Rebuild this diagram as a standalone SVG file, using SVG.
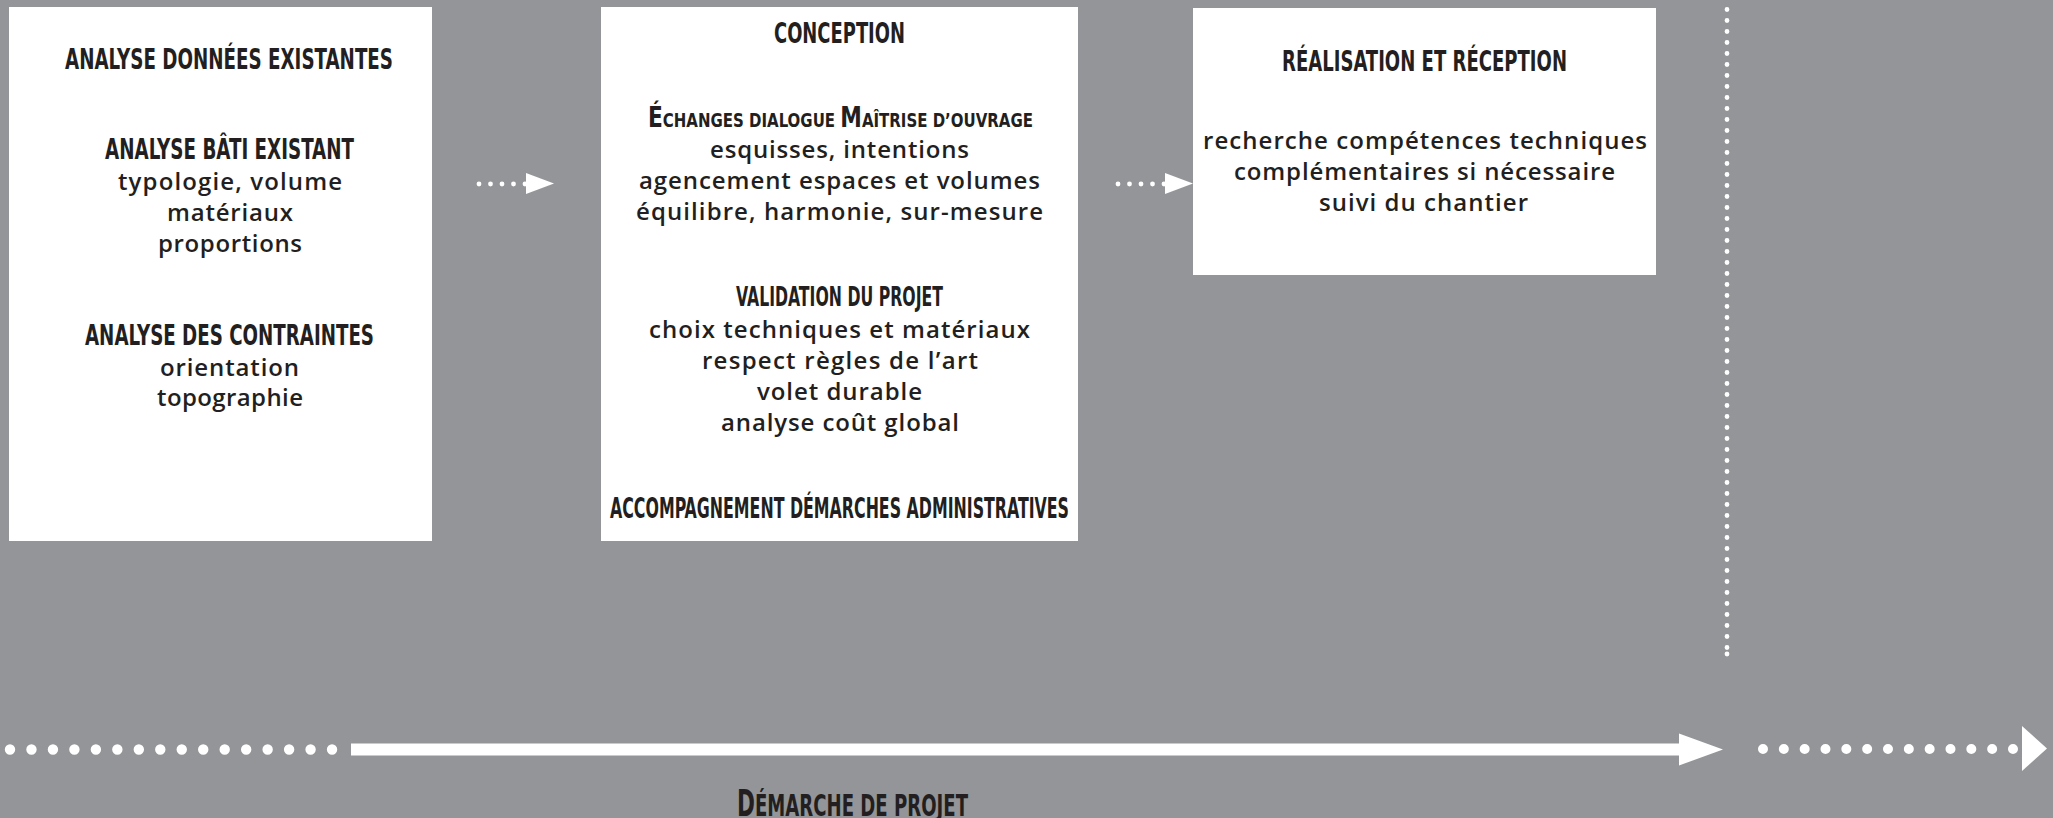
<svg xmlns="http://www.w3.org/2000/svg" width="2053" height="818" viewBox="0 0 2053 818">
<style>
.bg{fill:#939598}
.box{fill:#ffffff}
.st{font-family:"DejaVu Sans Condensed","DejaVu Sans",sans-serif;font-weight:bold;font-stretch:condensed;fill:#231f20;text-anchor:middle}
.bd{font-family:"Open Sans","Noto Sans",sans-serif;font-weight:600;font-size:24px;fill:#231f20;text-anchor:middle}
.wh{fill:#ffffff}
</style>
<rect class="bg" x="0" y="0" width="2053" height="818"/>

<g id="node-analyse">
  <rect class="box" x="9" y="7" width="423" height="534"/>
  <text class="st" x="229" y="69" font-size="29" textLength="328" lengthAdjust="spacingAndGlyphs">ANALYSE DONNÉES EXISTANTES</text>
  <text class="st" x="229.5" y="159" font-size="29" textLength="249" lengthAdjust="spacingAndGlyphs">ANALYSE BÂTI EXISTANT</text>
  <text class="bd" x="230" y="190" textLength="224">typologie, volume</text>
  <text class="bd" x="230" y="221" textLength="126">matériaux</text>
  <text class="bd" x="230" y="252" textLength="144">proportions</text>
  <text class="st" x="229.5" y="345" font-size="29" textLength="289" lengthAdjust="spacingAndGlyphs">ANALYSE DES CONTRAINTES</text>
  <text class="bd" x="229.5" y="376" textLength="139">orientation</text>
  <text class="bd" x="230" y="406" textLength="146">topographie</text>
</g>

<g id="node-conception">
  <rect class="box" x="601" y="7" width="477" height="534"/>
  <text class="st" x="839.5" y="43" font-size="29" textLength="131" lengthAdjust="spacingAndGlyphs">CONCEPTION</text>
  <text class="st" x="840.5" y="127" font-size="27.5" textLength="385" lengthAdjust="spacingAndGlyphs">É<tspan font-size="19">CHANGES DIALOGUE </tspan>M<tspan font-size="19">AÎTRISE D’OUVRAGE</tspan></text>
  <text class="bd" x="839.5" y="158" textLength="259">esquisses, intentions</text>
  <text class="bd" x="839.5" y="189" textLength="401">agencement espaces et volumes</text>
  <text class="bd" x="839.5" y="220" textLength="407">équilibre, harmonie, sur-mesure</text>
  <text class="st" x="839.5" y="306" font-size="26" textLength="207" lengthAdjust="spacingAndGlyphs">VALIDATION DU PROJET</text>
  <text class="bd" x="839.5" y="338" textLength="381">choix techniques et matériaux</text>
  <text class="bd" x="840" y="369" textLength="276">respect règles de l’art</text>
  <text class="bd" x="839.5" y="400" textLength="165">volet durable</text>
  <text class="bd" x="840" y="431" textLength="238">analyse coût global</text>
  <text class="st" x="839.5" y="518" font-size="29" textLength="459" lengthAdjust="spacingAndGlyphs">ACCOMPAGNEMENT DÉMARCHES ADMINISTRATIVES</text>
</g>

<g id="node-realisation">
  <rect class="box" x="1193" y="8" width="463" height="267"/>
  <text class="st" x="1424.5" y="71" font-size="29" textLength="285" lengthAdjust="spacingAndGlyphs">RÉALISATION ET RÉCEPTION</text>
  <text class="bd" x="1425" y="149" textLength="444">recherche compétences techniques</text>
  <text class="bd" x="1424.5" y="180" textLength="381">complémentaires si nécessaire</text>
  <text class="bd" x="1423.5" y="211" textLength="209">suivi du chantier</text>
</g>

<g id="label-demarche">
  <text class="st" x="852.5" y="816" font-size="37" textLength="231" lengthAdjust="spacingAndGlyphs">D<tspan font-size="31">ÉMARCHE DE PROJET</tspan></text>
</g>

<g id="connectors">
  <g id="arrow-analyse-conception" class="wh">
    <circle cx="479" cy="184" r="2.4"/>
    <circle cx="490.5" cy="184" r="2.4"/>
    <circle cx="502" cy="184" r="2.4"/>
    <circle cx="513.5" cy="184" r="2.4"/>
    <circle cx="525" cy="184" r="2.4"/>
    <polygon points="526,173 554,183.5 526,194"/>
  </g>
  <g id="arrow-conception-realisation" class="wh">
    <circle cx="1118" cy="184" r="2.4"/>
    <circle cx="1129.5" cy="184" r="2.4"/>
    <circle cx="1141" cy="184" r="2.4"/>
    <circle cx="1152.5" cy="184" r="2.4"/>
    <circle cx="1164" cy="184" r="2.4"/>
    <polygon points="1165,173 1193,183.5 1165,194"/>
  </g>
  <g id="divider">
    <line x1="1727" y1="9.5" x2="1727" y2="648" stroke="#ffffff" stroke-width="4.8" stroke-linecap="round" stroke-dasharray="0 11"/>
    <circle class="wh" cx="1727" cy="654" r="2.4"/>
  </g>
  <g id="timeline">
    <line x1="10" y1="749.5" x2="333" y2="749.5" stroke="#ffffff" stroke-width="10.4" stroke-linecap="round" stroke-dasharray="0 21.47"/>
    <rect class="wh" x="351" y="743.5" width="1329" height="12"/>
    <polygon class="wh" points="1679,733.5 1723,749.5 1679,765.5"/>
    <line x1="1763" y1="749" x2="2013.5" y2="749" stroke="#ffffff" stroke-width="10" stroke-linecap="round" stroke-dasharray="0 20.833"/>
    <polygon class="wh" points="2022,726 2047,748.5 2022,771"/>
  </g>
</g>
</svg>
